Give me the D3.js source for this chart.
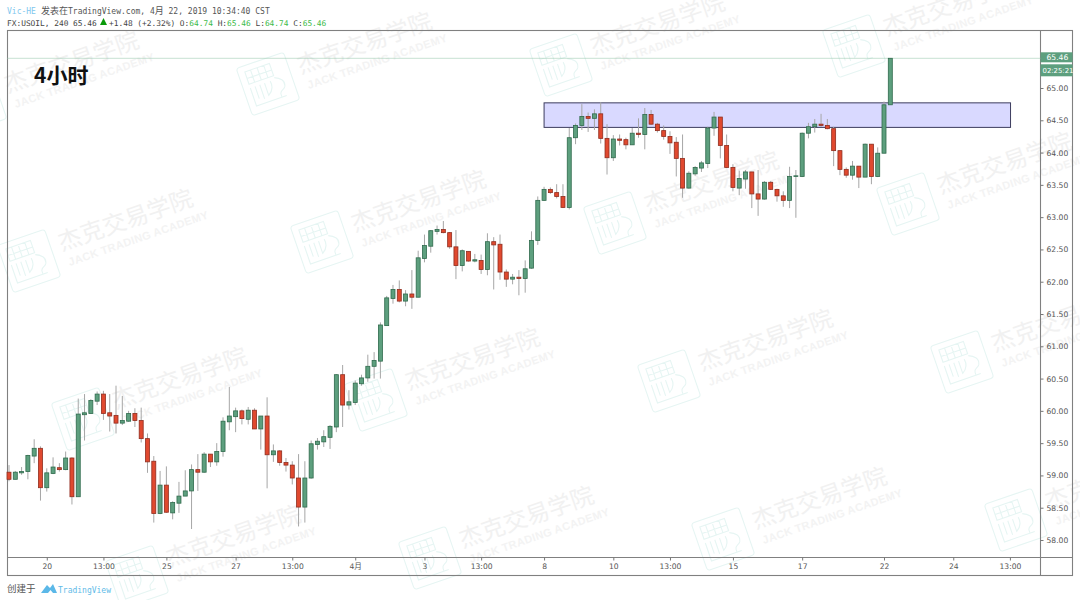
<!DOCTYPE html>
<html><head><meta charset="utf-8">
<script src="https://d3js.org/d3.v7.min.js"></script>
<style>html,body{margin:0;padding:0;background:#fff}svg{display:block}</style>
</head><body><svg id="c" width="1080" height="600"></svg>
<script>
const opens=[59.05,58.94,59.04,59.06,59.30,59.42,58.81,59.03,59.12,59.09,
59.27,58.67,59.94,59.96,60.15,60.26,59.97,59.93,59.81,59.84,
59.96,59.85,59.57,59.22,58.41,58.85,58.42,58.57,58.68,58.76,
59.09,59.05,59.33,59.21,59.37,59.83,59.91,60.00,59.87,60.01,
59.72,59.92,59.32,59.38,59.20,59.16,58.96,58.51,58.96,59.48,
59.52,59.59,59.75,60.56,60.09,60.13,60.42,60.51,60.69,60.77,
61.32,61.74,61.88,61.70,61.81,61.76,62.36,62.55,62.78,62.81,
62.76,62.54,62.25,62.47,62.32,62.33,62.19,62.62,62.58,62.15,
62.04,62.07,62.05,62.21,62.64,63.26,63.43,63.38,63.32,63.15,
64.23,64.42,64.56,64.53,64.60,64.22,63.92,64.21,64.20,64.12,
64.30,64.28,64.59,64.44,64.34,64.25,64.16,63.91,63.45,63.67,
63.76,63.83,64.38,64.55,64.11,63.77,63.45,63.59,63.70,63.36,
63.28,63.54,63.43,63.33,63.26,63.63,63.63,64.30,64.40,64.44,
64.42,64.37,64.03,63.74,63.65,63.79,63.62,64.13,63.63,63.99,
64.74];
const highs=[59.16,59.07,59.13,59.32,59.56,59.45,59.11,59.28,59.19,59.37,
59.28,60.19,60.26,60.18,60.30,60.31,60.26,60.39,60.23,60.00,
60.04,60.05,59.65,59.30,59.07,59.14,58.60,58.90,59.08,59.17,
59.33,59.36,59.33,59.50,59.90,60.37,60.05,60.02,60.06,60.04,
59.92,60.21,59.48,59.39,59.27,59.22,59.33,59.22,59.54,59.58,
59.70,59.78,60.57,60.71,60.32,60.47,60.56,60.87,60.91,61.37,
61.78,61.95,62.02,61.87,62.18,62.48,62.73,62.80,62.87,62.94,
62.77,62.80,62.50,62.47,62.43,62.42,62.75,62.69,62.73,62.19,
62.12,62.18,62.33,62.78,63.32,63.47,63.46,63.51,63.51,64.38,
64.45,64.75,64.62,64.67,64.78,64.44,64.27,64.28,64.23,64.38,
64.53,64.69,64.66,64.46,64.42,64.33,64.24,64.28,63.71,63.79,
63.87,64.40,64.63,64.55,64.28,63.82,63.72,63.73,63.70,63.73,
63.56,63.56,63.44,63.40,63.78,63.73,64.31,64.46,64.52,64.60,
64.52,64.40,64.03,63.77,63.87,63.79,64.14,64.13,64.08,64.79,
65.46];
const lows=[58.91,58.94,59.01,58.94,59.19,58.61,58.75,59.02,59.06,59.08,
58.55,58.67,59.54,59.96,60.09,59.86,59.68,59.65,59.78,59.83,
59.75,59.51,59.04,58.27,58.40,58.42,58.32,58.42,58.68,58.17,
58.76,59.04,59.13,59.15,59.29,59.70,59.67,59.79,59.79,59.72,
59.40,58.80,59.21,59.15,59.06,58.86,58.21,58.27,58.95,59.40,
59.44,59.41,59.67,59.75,60.02,60.09,60.39,60.45,60.50,60.50,
61.32,61.66,61.68,61.62,61.58,61.76,62.30,62.45,62.73,62.75,
62.51,62.04,62.16,62.31,62.30,62.12,62.10,61.88,62.03,61.92,
61.96,61.79,61.83,62.20,62.57,63.25,63.36,63.29,63.14,63.12,
64.13,64.35,64.32,64.35,64.14,63.66,63.87,64.11,64.05,64.12,
64.23,64.05,64.43,64.31,64.20,63.98,63.63,63.30,63.44,63.64,
63.70,63.76,64.26,63.91,63.76,63.40,63.34,63.44,63.14,63.02,
63.27,63.42,63.24,63.16,63.14,62.99,63.62,64.22,64.31,64.40,
64.36,63.79,63.65,63.61,63.58,63.45,63.62,63.51,63.62,63.99,
64.74];
const closes=[58.94,59.05,59.06,59.31,59.42,58.81,59.04,59.13,59.09,59.27,
58.67,59.95,59.97,60.16,60.26,59.96,59.92,59.81,59.85,59.96,
59.85,59.57,59.21,58.41,58.85,58.43,58.58,58.68,58.76,59.09,
59.05,59.33,59.21,59.37,59.84,59.92,60.00,59.88,60.01,59.72,
59.92,59.32,59.38,59.20,59.16,58.96,58.51,58.96,59.49,59.53,
59.60,59.76,60.56,60.09,60.14,60.43,60.51,60.69,60.78,61.33,
61.75,61.88,61.70,61.81,61.76,62.37,62.56,62.79,62.81,62.76,
62.54,62.25,62.48,62.32,62.34,62.19,62.62,62.57,62.15,62.04,
62.07,62.05,62.20,62.64,63.26,63.43,63.38,63.32,63.15,64.23,
64.42,64.56,64.53,64.60,64.22,63.92,64.21,64.19,64.12,64.30,
64.28,64.59,64.44,64.34,64.25,64.15,63.91,63.45,63.68,63.77,
63.84,64.38,64.55,64.11,63.77,63.46,63.60,63.70,63.36,63.28,
63.54,63.43,63.33,63.26,63.63,63.64,64.30,64.40,64.44,64.42,
64.37,64.03,63.74,63.65,63.79,63.62,64.13,63.63,63.99,64.74,
65.46];
const priceTicks=[58,58.5,59,59.5,60,60.5,61,61.5,62,62.5,63,63.5,64,64.5,65];
const timeTickIndex=[6,15,25,36,45,55,66,75,85,96,105,115,126,139,150,159];
const timeTickLabels=["20","13:00","25","27","13:00","4月","3","13:00","8","10","13:00","15","17","22","24","13:00"];
const zoneIndex=[85,159.1];
const zonePrice=[64.39,64.77];
const lastPrice=65.46;
const countdown="02:25:21";

const svg=d3.select("#c");
const L=7.5,R=1040.5,OR=1072.5,T=30.5,B=557.5,OB=575.5;
const MONO="'DejaVu Sans Mono','Noto Sans CJK SC',monospace";
const AX="'DejaVu Sans',sans-serif";
const x=d3.scaleLinear().domain([0,140]).range([9,890.3]);
const y=d3.scaleLinear().domain([58,65]).range([540,88]);

// watermark lattice
const wmRows=[-1,0,1,2,3,4], wmCols=[-2,-1,0,1,2,3,4];
const wmA=[293,-19], wmB=[54,158], wmO=[322,242];
const cells=[];
wmRows.forEach(r=>wmCols.forEach(c=>{
  const cx=wmO[0]+c*wmA[0]+r*wmB[0], cy=wmO[1]+c*wmA[1]+r*wmB[1];
  if(cx>-90&&cx<1130&&cy>-40&&cy<650) cells.push([cx,cy]);
}));
const wm=svg.append("g").selectAll("g").data(cells).join("g")
  .attr("transform",d=>`translate(${d[0]},${d[1]}) rotate(-19)`);
const wmC="#e6f5f3";
wm.append("rect").attr("x",-25).attr("y",-25).attr("width",50).attr("height",50).attr("rx",3)
  .attr("fill","none").attr("stroke",wmC).attr("stroke-width",1.1);
wm.append("path").attr("fill","none").attr("stroke",wmC).attr("stroke-width",1.1)
  .attr("d","M-18,-19H8V-6H-18ZM-12,-19V-6M-5,-19V-6M2,-19V-6M-18,-12H8M-18,-2V17H14M-13,-2V11M-8,-2V13M-3,-2V11C2,8 4,3 3,-2M8,-4C13,-2 18,2 15,8C13,11 9,10 9,14V18");
wm.append("text").attr("x",34).attr("y",1)
  .attr("font-family","'Noto Sans CJK SC',sans-serif").attr("font-size",23.5).attr("fill","#f1f1f1")
  .text("杰克交易学院");
wm.append("text").attr("x",37).attr("y",18)
  .attr("font-family","'Liberation Sans',sans-serif").attr("font-size",11).attr("font-weight",700)
  .attr("letter-spacing",.3).attr("fill","#f3f3f3").text("JACK TRADING ACADEMY");

// frame
const frame=svg.append("g").attr("fill","none").attr("stroke","#808080").attr("stroke-width",1.1);
frame.append("rect").attr("x",L).attr("y",T).attr("width",OR-L).attr("height",OB-T);
frame.append("line").attr("x1",L).attr("x2",OR).attr("y1",B).attr("y2",B);
frame.append("line").attr("x1",R).attr("x2",R).attr("y1",T).attr("y2",OB);

// last price dotted line
svg.append("line").attr("x1",L).attr("x2",R).attr("y1",y(lastPrice)).attr("y2",y(lastPrice))
  .attr("stroke","#8fc4a6").attr("stroke-width",1).attr("stroke-dasharray","1 1");

// zone
svg.append("rect").attr("x",x(zoneIndex[0])).attr("width",x(zoneIndex[1])-x(zoneIndex[0]))
  .attr("y",y(zonePrice[1])).attr("height",y(zonePrice[0])-y(zonePrice[1]))
  .attr("fill","rgba(0,0,255,.15)").attr("stroke","#3c3c5e").attr("stroke-width",1);

// candles
const data=opens.map((o,i)=>({i,o,h:highs[i],l:lows[i],c:closes[i]}));
const gc=svg.append("g");
gc.selectAll("line").data(data).join("line")
  .attr("x1",d=>x(d.i)).attr("x2",d=>x(d.i)).attr("y1",d=>y(d.h)).attr("y2",d=>y(d.l))
  .attr("stroke","#a6a6a6").attr("stroke-width",1);
gc.selectAll("rect").data(data).join("rect")
  .attr("x",d=>x(d.i)-2).attr("width",4)
  .attr("y",d=>y(Math.max(d.o,d.c)))
  .attr("height",d=>Math.max(.6,Math.abs(y(d.o)-y(d.c))))
  .attr("fill",d=>d.c>=d.o?"#5d9f7e":"#e0492f")
  .attr("stroke",d=>d.c>=d.o?"#2f6a4c":"#8f2d1f").attr("stroke-width",.8);

// price axis
const ya=svg.append("g").attr("transform",`translate(${R},0)`)
  .call(d3.axisRight(y).tickValues(priceTicks).tickFormat(d3.format(".2f")).tickSize(3).tickPadding(3));
ya.select(".domain").remove();
ya.selectAll("line").attr("stroke","#777");
ya.selectAll("text").attr("font-family",AX).attr("font-size",7.6).attr("fill","#555");

// time axis
const xa=svg.append("g").attr("transform",`translate(0,${B})`)
  .call(d3.axisBottom(x).tickValues(timeTickIndex).tickFormat((d,i)=>timeTickLabels[i]).tickSize(3).tickPadding(3));
xa.select(".domain").remove();
xa.selectAll("line").attr("stroke","#777");
xa.selectAll("text").attr("font-family","'DejaVu Sans','Noto Sans CJK SC',sans-serif").attr("font-size",7.6).attr("fill","#555");

// last price tags
const tag=svg.append("g").attr("font-family",AX).attr("fill","#fff");
tag.append("rect").attr("x",R).attr("y",y(lastPrice)-6).attr("width",OR-R).attr("height",10).attr("fill","#5d9f7e");
tag.append("rect").attr("x",R).attr("y",y(lastPrice)+6).attr("width",OR-R).attr("height",12).attr("fill","#5d9f7e");
tag.append("text").attr("x",R+6).attr("y",y(lastPrice)+2).attr("font-size",7.6).text(d3.format(".2f")(lastPrice));
tag.append("text").attr("x",R+2).attr("y",y(lastPrice)+15).attr("font-size",6.9).text(countdown);

// titles
svg.append("text").attr("x",7).attr("y",14).attr("font-family",MONO).attr("font-size",8).attr("fill","#7fc7ee").text("Vic-HE");
const t1=svg.append("text").attr("x",41).attr("y",14).attr("font-family",MONO).attr("font-size",8).attr("fill","#555");
t1.append("tspan").attr("font-size",9).text("发表在");
t1.append("tspan").text("TradingView.com, 4");
t1.append("tspan").attr("font-size",9).text("月");
t1.append("tspan").text(" 22, 2019 10:34:40 CST");
svg.append("text").attr("x",7).attr("y",26).attr("font-family",MONO).attr("font-size",7.85).attr("fill","#444").text("FX:USOIL, 240 65.46");
svg.append("path").attr("d","M100,25 L103.5,18 L107,25 Z").attr("fill","#0a9a0a");
const t3=svg.append("text").attr("x",109).attr("y",26).attr("font-family",MONO).attr("font-size",7.85).attr("fill","#444");
t3.append("tspan").text("+1.48 (+2.32%) O:");
t3.append("tspan").attr("fill","#3dbb4a").text("64.74");
t3.append("tspan").text(" H:");
t3.append("tspan").attr("fill","#3dbb4a").text("65.46");
t3.append("tspan").text(" L:");
t3.append("tspan").attr("fill","#3dbb4a").text("64.74");
t3.append("tspan").text(" C:");
t3.append("tspan").attr("fill","#3dbb4a").text("65.46");

svg.append("text").attr("x",34).attr("y",83).attr("font-family","'Noto Sans CJK SC',sans-serif")
  .attr("font-weight",700).attr("font-size",21).attr("fill","#111").text("4小时");

// footer
svg.append("text").attr("x",7).attr("y",592).attr("font-family","'Noto Sans CJK SC',sans-serif").attr("font-size",9.5).attr("fill","#555").text("创建于");
svg.append("path").attr("d","M41,593 L47,585 L50,588 L53,584 L57,593 L53,593 L50.5,590 L48,593 Z").attr("fill","#5bb8e8");
svg.append("text").attr("x",58).attr("y",593).attr("font-family",MONO).attr("font-size",8).attr("fill","#62bbe8").text("TradingView");
</script></body></html>
